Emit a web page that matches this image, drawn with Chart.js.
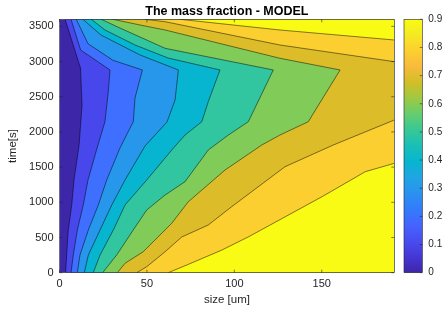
<!DOCTYPE html>
<html>
<head>
<meta charset="utf-8">
<script src="https://cdn.jsdelivr.net/npm/chart.js"></script>
<style>
  html, body { margin: 0; padding: 0; background: #fff; }
  #wrap { width: 444px; height: 310px; }
</style>
</head>
<body>
<div id="wrap"><canvas id="chartContour"></canvas></div>
<script>
// axis ranges and ticks
const sizeMax = 191.5;
const timeMax = 3600;
const sizeTicks = [0, 50, 100, 150];
const timeTicks = [0, 500, 1000, 1500, 2000, 2500, 3000, 3500];
const levels = [0, 0.1, 0.2, 0.3, 0.4, 0.5, 0.6, 0.7, 0.8, 0.9];

// contour lines as [size um, time s] from top to bottom
const c00 = [[0, 3600], [0, 0]];
const c01 = [[3.2, 3600], [12.0, 2908], [12.9, 2383], [11.2, 1814], [8.3, 1316], [7.0, 962], [5.0, 607], [4.1, 251], [3.5, 0]];
const c02 = [[6.6, 3600], [12.1, 3164], [28.9, 2880], [27.9, 2567], [26.0, 2145], [21.5, 1772], [16.3, 1317], [13.6, 962], [10.2, 607], [7.9, 251], [6.6, 0]];
const c03 = [[9.6, 3600], [16.3, 3253], [30.6, 3018], [47.4, 2880], [43.2, 2482], [42.2, 2145], [34.6, 1772], [27.0, 1317], [22.2, 962], [16.5, 607], [11.7, 251], [10.2, 0]];
const c04 = [[13.4, 3600], [23.7, 3377], [46.1, 3093], [68.0, 2880], [66.1, 2453], [61.5, 2141], [48.9, 1800], [37.5, 1317], [29.9, 962], [23.2, 607], [16.5, 251], [14.2, 0]];
const c05 = [[18.2, 3600], [26.0, 3448], [43.2, 3235], [62.1, 3050], [91.8, 2880], [85.1, 2429], [81.4, 2145], [71.8, 1956], [64.2, 1743], [49.9, 1317], [37.5, 962], [30.8, 607], [23.2, 251], [19.3, 0]];
const c06 = [[23.9, 3600], [34.6, 3476], [60.4, 3188], [122.3, 2880], [108.0, 2145], [96.6, 1956], [85.1, 1743], [71.8, 1293], [60.4, 1104], [49.9, 891], [42.2, 607], [32.7, 251], [24.7, 0]];
const c07 = [[30.6, 3600], [46.1, 3519], [60.4, 3448], [126.1, 3046], [160.5, 2880], [142.3, 2145], [126.1, 1956], [115.7, 1814], [94.7, 1459], [73.7, 1009], [64.2, 702], [47.9, 298], [37.5, 134], [33.1, 0]];
const c08top = [[48.9, 3600], [60.4, 3566], [126.1, 3235], [191.5, 2998]];
const c08low = [[191.5, 2169], [156.6, 1814], [129.0, 1506], [98.5, 938], [85.1, 678], [69.9, 507], [60.4, 298], [49.9, 85], [44.2, 0]];
const c09top = [[68.9, 3600], [126.1, 3448], [191.5, 3306]];
const c09low = [[191.5, 1554], [174.9, 1435], [150.2, 1080], [108.2, 511], [93.0, 323], [72.8, 109], [62.2, 0]];

// each piece with the level it bounds
const pieces = [
  [c00, 0], [c01, 1], [c02, 2], [c03, 3], [c04, 4], [c05, 5], [c06, 6], [c07, 7],
  [c08top, 8], [c08low, 8], [c09top, 9], [c09low, 9]
];

// parula colours for each band and for the colorbar
const bandColors = ['#3E26A8', '#4747EB', '#3E6FFF', '#2797EB', '#08B5D0', '#31C69F', '#81CC59', '#DCBD29', '#FCCF30', '#F9FB15'];
const parula = ['#3E26A8', '#4537D5', '#484DF0', '#4563FD', '#327BFC', '#2B91EF', '#20A5E3', '#08B5D0', '#19BFB6',
  '#37C897', '#64CD6F', '#9DC943', '#D1BF27', '#F8BA3D', '#FCCF30', '#F5E924', '#F9FB15'];

const axisColor = '#262626';

const datasets = pieces.map(([pts, k], i) => ({
  data: pts.map(([x, y]) => ({ x, y })),
  fill: { value: sizeMax },
  backgroundColor: bandColors[k],
  borderColor: k === 0 ? 'rgba(0,0,0,0)' : 'rgba(0,0,0,0.7)',
  borderWidth: 0.7,
  pointRadius: 0,
  order: 50 - i,
}));

const framePlugin = {
  id: 'frame',
  afterDatasetsDraw(chart) {
    const { ctx, chartArea: a, scales } = chart;
    ctx.save();
    ctx.strokeStyle = axisColor;
    ctx.lineWidth = 0.6;
    ctx.strokeRect(a.left, a.top, a.right - a.left, a.bottom - a.top);
    ctx.beginPath();
    scales.x.ticks.forEach(t => {
      const px = scales.x.getPixelForValue(t.value);
      ctx.moveTo(px, a.bottom); ctx.lineTo(px, a.bottom - 3);
      ctx.moveTo(px, a.top); ctx.lineTo(px, a.top + 3);
    });
    scales.y.ticks.forEach(t => {
      const py = scales.y.getPixelForValue(t.value);
      ctx.moveTo(a.left, py); ctx.lineTo(a.left + 3, py);
      ctx.moveTo(a.right, py); ctx.lineTo(a.right - 3, py);
    });
    ctx.stroke();

    // colorbar
    const cb = scales.cb;
    const x0 = a.right + 9.7;
    const w = 18.3;
    const top = cb.getPixelForValue(cb.max);
    const bot = cb.getPixelForValue(cb.min);
    const g = ctx.createLinearGradient(0, bot, 0, top);
    parula.forEach((c, i) => g.addColorStop(i / (parula.length - 1), c));
    ctx.fillStyle = g;
    ctx.fillRect(x0, top, w, bot - top);
    ctx.strokeRect(x0, top, w, bot - top);
    ctx.beginPath();
    cb.ticks.forEach(t => {
      const py = cb.getPixelForValue(t.value);
      ctx.moveTo(x0 + w, py); ctx.lineTo(x0 + w - 2.5, py);
    });
    ctx.stroke();
    ctx.restore();
  }
};

Chart.defaults.font.family = '"Liberation Sans", Arial, Helvetica, sans-serif';

new Chart(document.getElementById('chartContour'), {
  type: 'line',
  data: { datasets },
  options: {
    indexAxis: 'y',
    responsive: true,
    maintainAspectRatio: false,
    animation: false,
    layout: { padding: 0 },
    plugins: {
      legend: { display: false },
      tooltip: { enabled: false },
      title: {
        display: true,
        text: 'The mass fraction - MODEL',
        color: '#000',
        fullSize: false,
        font: { size: 12.5, weight: 'bold' },
        padding: { top: 4, bottom: 0.3 },
      },
    },
    scales: {
      x: {
        type: 'linear', min: 0, max: sizeMax,
        afterBuildTicks: s => { s.ticks = sizeTicks.map(v => ({ value: v })); },
        afterFit: s => { s.height = 37.3; },
        grid: { display: false, drawTicks: false },
        border: { display: false },
        ticks: { padding: 5, color: axisColor, font: { size: 11 }, maxRotation: 0, callback: v => String(v) },
        title: { display: true, text: 'size [um]', color: axisColor, font: { size: 11.5 }, padding: { top: 0, bottom: 3 } },
      },
      y: {
        type: 'linear', min: 0, max: timeMax,
        afterBuildTicks: s => { s.ticks = timeTicks.map(v => ({ value: v })); },
        afterFit: s => { s.width = 59.5; },
        grid: { display: false, drawTicks: false },
        border: { display: false },
        ticks: { padding: 6, color: axisColor, font: { size: 11 }, callback: v => String(v) },
        title: { display: true, text: 'time[s]', color: axisColor, font: { size: 11.5 }, padding: { top: 6, bottom: 0 } },
      },
      cb: {
        type: 'linear', axis: 'y', position: 'right', min: 0, max: 0.9,
        afterBuildTicks: s => { s.ticks = levels.map(v => ({ value: v })); },
        afterFit: s => { s.width = 49.7; },
        grid: { display: false, drawTicks: true, tickLength: 28 },
        border: { display: false },
        ticks: { padding: 6, color: axisColor, font: { size: 10 }, callback: v => (v === 0 ? '0' : v.toFixed(1)) },
      },
    },
  },
  plugins: [framePlugin],
});
</script>
</body>
</html>
